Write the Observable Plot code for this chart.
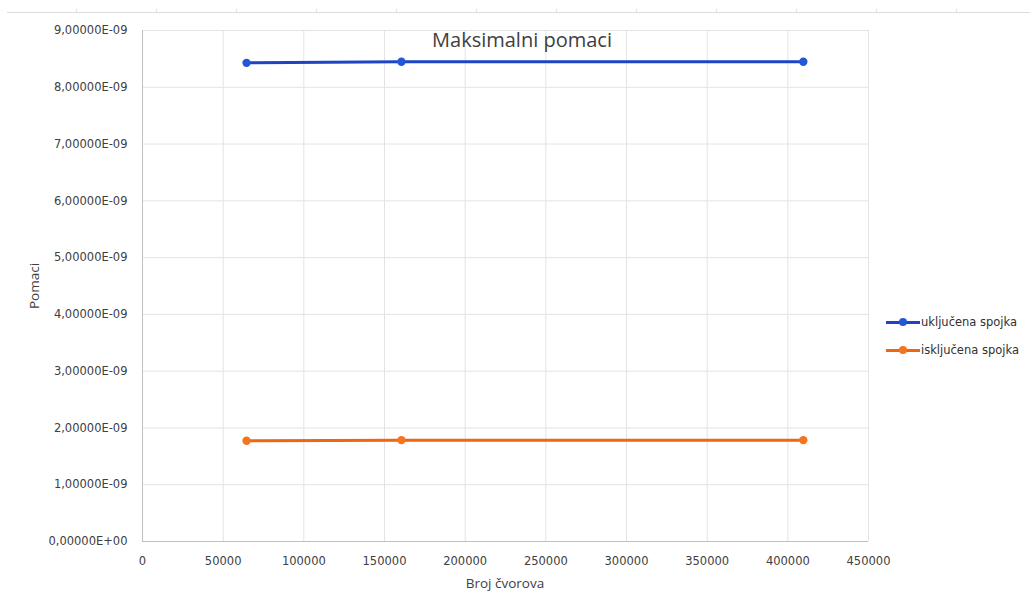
<!DOCTYPE html>
<html>
<head>
<meta charset="utf-8">
<script src="https://cdn.jsdelivr.net/npm/d3@7"></script>
<script src="https://cdn.jsdelivr.net/npm/@observablehq/plot@0.6"></script>
<style>
  html, body { margin: 0; padding: 0; background: #fff; }
  #wrap { position: relative; width: 1030px; height: 610px; overflow: hidden; }
  .ov { position: absolute; white-space: nowrap; }
  #sheet { position: absolute; left: 7px; right: 0; top: 12px; height: 1px; background: #dcdcdc; }
  .tk { position: absolute; top: 9px; width: 1px; height: 3px; background: #e2e2e2; }
  #title { font-family: "Open Sans", sans-serif; font-size: 20px; color: #404040; left: 522px; top: 26px; transform: translateX(-50%); }
  .axl { font-family: "Open Sans", sans-serif; font-size: 13.5px; color: #404040; }
  #xl { left: 505px; top: 574px; transform: translateX(-50%); }
  #yl { left: 34px; top: 286px; transform: translate(-50%, -50%) rotate(-90deg); }
  .leg { position: absolute; left: 886px; font-family: "DejaVu Sans", sans-serif; font-size: 11.5px; color: #303030; display: flex; align-items: center; }
  .leg .ln { position: relative; width: 34px; height: 3px; margin-right: 1px; }
  .leg .dt { position: absolute; left: 13px; top: -3px; width: 8px; height: 8px; border-radius: 50%; }
</style>
</head>
<body>
<div id="wrap">
  <div id="sheet"></div>
  <div id="chart"></div>
  <div id="title" class="ov">Maksimalni pomaci</div>
  <div id="xl" class="ov axl">Broj čvorova</div>
  <div id="yl" class="ov axl">Pomaci</div>
  <div id="legend"></div>
</div>
<script>
// ---- data ----
const nodes = [64500, 160500, 409600];
const ukljucena = [8.43e-9, 8.45e-9, 8.45e-9];
const iskljucena = [1.775e-9, 1.785e-9, 1.785e-9];
const seriesNames = ["uključena spojka", "isključena spojka"];
const lineColors = ["#1c44c4", "#ee6512"];
const dotColors = ["#2257d8", "#f47420"];
const xTicks = [0, 50000, 100000, 150000, 200000, 250000, 300000, 350000, 400000, 450000];
const yTicks = [0, 1e-9, 2e-9, 3e-9, 4e-9, 5e-9, 6e-9, 7e-9, 8e-9, 9e-9];

const data = [];
[ukljucena, iskljucena].forEach((vals, si) => {
  vals.forEach((v, i) => data.push({ series: seriesNames[si], x: nodes[i], y: v }));
});

const fmtY = d => {
  const s = d.toExponential(5).replace(".", ",");
  return s.replace(/e([+-])(\d+)$/, (m, sign, exp) => "E" + sign + exp.padStart(2, "0"));
};

const chart = Plot.plot({
  width: 1030,
  height: 610,
  marginLeft: 142,
  marginRight: 162,
  marginTop: 30,
  marginBottom: 69,
  style: { fontFamily: "DejaVu Sans, sans-serif", fontSize: "11.5px", color: "#404040", background: "transparent" },
  x: { domain: [0, 450000] },
  y: { domain: [0, 9e-9] },
  color: { domain: seriesNames, range: lineColors },
  marks: [
    Plot.gridX(xTicks, { stroke: "#e3e3e3", strokeOpacity: 1 }),
    Plot.gridY(yTicks, { stroke: "#e3e3e3", strokeOpacity: 1 }),
    Plot.ruleX([0], { stroke: "#bfbfbf" }),
    Plot.ruleY([0], { stroke: "#bfbfbf" }),
    Plot.axisX(xTicks, { tickSize: 0, tickPadding: 15, tickFormat: d => String(d), label: null, fill: "#404040" }),
    Plot.axisY(yTicks, { tickSize: 0, tickPadding: 15, tickFormat: fmtY, label: null, fill: "#404040" }),
    Plot.line(data, { x: "x", y: "y", z: "series", stroke: "series", strokeWidth: 3 }),
    Plot.dot(data, { x: "x", y: "y", fill: d => dotColors[seriesNames.indexOf(d.series)], r: 4.2, stroke: "none" })
  ]
});
document.getElementById("chart").appendChild(chart);

// spreadsheet column ticks at top
const wrap = document.getElementById("wrap");
for (let x = 76; x < 1030; x += 80) {
  const t = document.createElement("div");
  t.className = "tk";
  t.style.left = x + "px";
  wrap.appendChild(t);
}

// legend
const legend = document.getElementById("legend");
seriesNames.forEach((name, i) => {
  const row = document.createElement("div");
  row.className = "leg";
  row.style.top = (315 + i * 28) + "px";
  const ln = document.createElement("div");
  ln.className = "ln";
  ln.style.background = lineColors[i];
  const dt = document.createElement("div");
  dt.className = "dt";
  dt.style.background = dotColors[i];
  ln.appendChild(dt);
  const tx = document.createElement("span");
  tx.textContent = name;
  row.appendChild(ln);
  row.appendChild(tx);
  legend.appendChild(row);
});
</script>
</body>
</html>
